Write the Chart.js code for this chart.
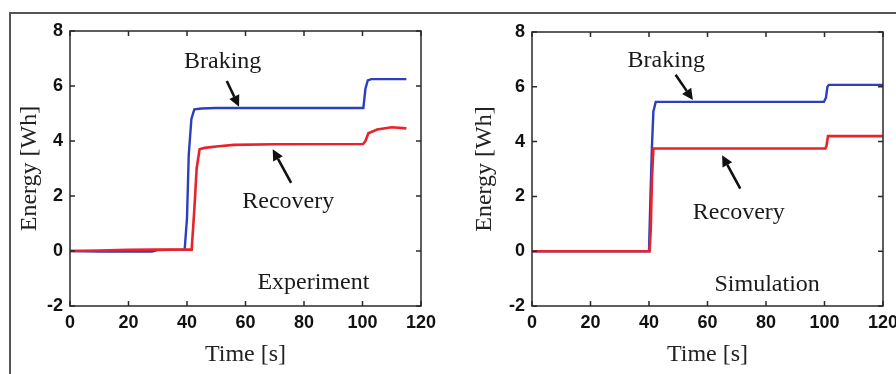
<!DOCTYPE html>
<html>
<head>
<meta charset="utf-8">
<script src="https://cdn.jsdelivr.net/npm/chart.js@4.4.0/dist/chart.umd.min.js"></script>
<style>
  html, body { margin: 0; padding: 0; background: #fff; }
  #wrap { position: relative; width: 896px; height: 374px; overflow: hidden; }
  #frame { position: absolute; left: 9px; top: 12px; width: 900px; height: 400px;
           border-left: 2px solid #555; border-top: 2px solid #555; }
  .panel { position: absolute; top: 0; width: 448px; height: 374px; }
</style>
</head>
<body>
<div id="wrap">
  <div id="frame"></div>
  <div class="panel" style="left:0"><canvas id="expChart" width="448" height="374"></canvas></div>
  <div class="panel" style="left:448px"><canvas id="simChart" width="448" height="374"></canvas></div>
</div>
<script>
// x ticks / y ticks
var timeTicks = [0, 20, 40, 60, 80, 100, 120];
var energyTicks = [-2, 0, 2, 4, 6, 8];

// Experiment
var expBrakingTime = [0, 10, 20, 28, 30, 39.2, 40, 40.6, 41.5, 42.5, 45, 50, 100.3, 101, 101.8, 103, 115];
var expBraking     = [0, -0.02, -0.02, -0.02, 0.03, 0.05, 1.2, 3.5, 4.8, 5.15, 5.18, 5.2, 5.2, 5.9, 6.2, 6.25, 6.25];
var expRecoveryTime = [0, 10, 20, 30, 41.6, 42.5, 43.3, 44.3, 46, 50, 56, 70, 100.2, 101, 102, 105, 110, 115];
var expRecovery     = [0, 0.02, 0.04, 0.05, 0.05, 1.5, 3.0, 3.7, 3.75, 3.8, 3.86, 3.88, 3.89, 4.0, 4.28, 4.42, 4.5, 4.46];

// Simulation
var simBrakingTime = [0, 40, 40.5, 41, 41.5, 42.3, 99.8, 100.5, 101, 101.5, 120];
var simBraking     = [0, 0, 2, 3.8, 5.1, 5.45, 5.45, 5.6, 6.0, 6.07, 6.07];
var simRecoveryTime = [0, 40.2, 40.6, 41, 41.5, 100.3, 100.7, 101.2, 120];
var simRecovery     = [0, 0, 0.8, 2.6, 3.75, 3.75, 3.85, 4.2, 4.2];

function pts(xs, ys) {
  return xs.map(function(x, i) { return {x: x, y: ys[i]}; });
}

var frameAndTicks = {
  id: 'frameAndTicks',
  afterDatasetsDraw: function(chart) {
    var ctx = chart.ctx, a = chart.chartArea;
    var xs = chart.scales.x, ys = chart.scales.y;
    var tl = 5;
    ctx.save();
    ctx.strokeStyle = '#2a2a2a';
    ctx.lineWidth = 1.5;
    ctx.beginPath();
    timeTicks.forEach(function(t) {
      var px = xs.getPixelForValue(t);
      ctx.moveTo(px, a.bottom); ctx.lineTo(px, a.bottom - tl);
      ctx.moveTo(px, a.top); ctx.lineTo(px, a.top + tl);
    });
    energyTicks.forEach(function(v) {
      var py = ys.getPixelForValue(v);
      ctx.moveTo(a.left, py); ctx.lineTo(a.left + tl, py);
      ctx.moveTo(a.right, py); ctx.lineTo(a.right - tl, py);
    });
    ctx.stroke();
    ctx.strokeRect(a.left, a.top, a.right - a.left, a.bottom - a.top);
    ctx.restore();
  }
};

var notes = {
  id: 'notes',
  afterDatasetsDraw: function(chart, args, opts) {
    var ctx = chart.ctx;
    var xs = chart.scales.x, ys = chart.scales.y;
    ctx.save();
    ctx.fillStyle = '#1a1a1a';
    ctx.font = '24px "Liberation Serif"';
    ctx.textAlign = 'center';
    ctx.textBaseline = 'middle';
    opts.texts.forEach(function(t) {
      ctx.fillText(t.text, xs.getPixelForValue(t.x), ys.getPixelForValue(t.y));
    });
    opts.arrows.forEach(function(ar) {
      var x0 = xs.getPixelForValue(ar.from[0]), y0 = ys.getPixelForValue(ar.from[1]);
      var x1 = xs.getPixelForValue(ar.to[0]), y1 = ys.getPixelForValue(ar.to[1]);
      var ang = Math.atan2(y1 - y0, x1 - x0);
      var hl = 11, hw = 5.5;
      var bx = x1 - hl * Math.cos(ang), by = y1 - hl * Math.sin(ang);
      ctx.strokeStyle = '#111';
      ctx.lineWidth = 2.6;
      ctx.beginPath();
      ctx.moveTo(x0, y0); ctx.lineTo(bx, by);
      ctx.stroke();
      ctx.fillStyle = '#111';
      ctx.beginPath();
      ctx.moveTo(x1, y1);
      ctx.lineTo(bx + hw * Math.sin(ang), by - hw * Math.cos(ang));
      ctx.lineTo(bx - hw * Math.sin(ang), by + hw * Math.cos(ang));
      ctx.closePath();
      ctx.fill();
    });
    ctx.restore();
  }
};

function makeChart(id, braking, recovery, cfg) {
  var tickFont = {family: 'Liberation Sans', size: 18, weight: 'bold'};
  var titleFont = {family: 'Liberation Serif', size: 24};
  return new Chart(document.getElementById(id), {
    type: 'line',
    data: {
      datasets: [
        {label: 'Braking', data: braking, borderColor: '#2b3fbf', borderWidth: 2.4, pointRadius: 0, tension: 0, order: 1},
        {label: 'Recovery', data: recovery, borderColor: '#e8232b', borderWidth: 2.6, pointRadius: 0, tension: 0, order: 0}
      ]
    },
    options: {
      responsive: false,
      animation: false,
      layout: {padding: {left: 0, right: cfg.right, top: cfg.top, bottom: 0}},
      plugins: {
        legend: {display: false},
        tooltip: {enabled: false},
        notes: {texts: cfg.texts, arrows: cfg.arrows}
      },
      scales: {
        x: {
          type: 'linear', min: 0, max: 120,
          grid: {display: false, drawTicks: false},
          border: {display: false},
          afterBuildTicks: function(s) { s.ticks = timeTicks.map(function(v) { return {value: v}; }); },
          afterFit: function(s) { s.height = 374 - 306; s.paddingLeft = 0; s.paddingRight = 0; },
          ticks: {font: tickFont, color: '#111', padding: 6, autoSkip: false, maxRotation: 0},
          title: {display: true, text: 'Time [s]', font: titleFont, color: '#222', padding: {top: 0, bottom: 5}}
        },
        y: {
          min: -2, max: 8,
          grid: {display: false, drawTicks: false},
          border: {display: false},
          afterBuildTicks: function(s) { s.ticks = energyTicks.map(function(v) { return {value: v}; }); },
          afterFit: function(s) { s.width = cfg.left; },
          ticks: {font: tickFont, color: '#111', padding: 7, autoSkip: false},
          title: {display: true, text: 'Energy [Wh]', font: titleFont, color: '#222', padding: {top: cfg.titlePad, bottom: 0}}
        }
      }
    },
    plugins: [frameAndTicks, notes]
  });
}

makeChart('expChart', pts(expBrakingTime, expBraking), pts(expRecoveryTime, expRecovery), {
  left: 70, right: 27, top: 31, titlePad: 15,
  texts: [
    {text: 'Braking', x: 52.2, y: 6.88},
    {text: 'Recovery', x: 74.6, y: 1.79},
    {text: 'Experiment', x: 83.2, y: -1.15}
  ],
  arrows: [
    {from: [53.6, 6.18], to: [57.8, 5.25]},
    {from: [75.6, 2.48], to: [69.3, 3.7]}
  ]
});

makeChart('simChart', pts(simBrakingTime, simBraking), pts(simRecoveryTime, simRecovery), {
  left: 84, right: 13, top: 32, titlePad: 22,
  texts: [
    {text: 'Braking', x: 45.9, y: 6.97},
    {text: 'Recovery', x: 70.7, y: 1.39},
    {text: 'Simulation', x: 80.4, y: -1.24}
  ],
  arrows: [
    {from: [49.1, 6.44], to: [55.0, 5.52]},
    {from: [71.2, 2.28], to: [65.0, 3.5]}
  ]
});
</script>
</body>
</html>
